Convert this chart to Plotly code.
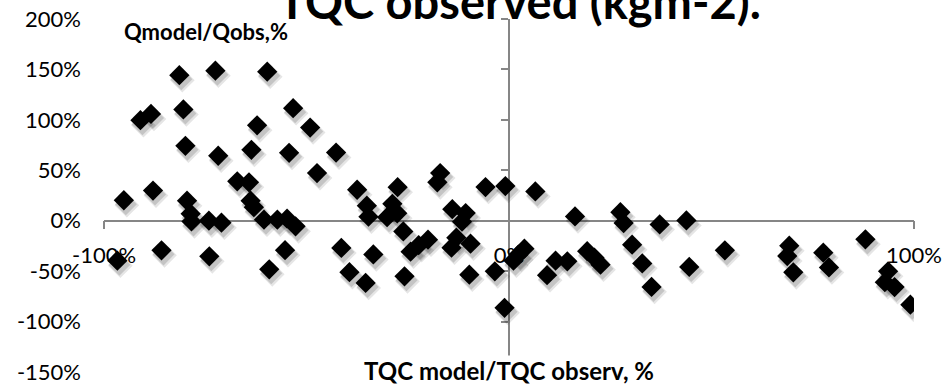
import plotly.graph_objects as go

# Relative error of the bulk heat-transfer model (%)
tqc_ratio = [
    -96.7, -95.1, -91.0, -88.4, -87.9, -85.8, -81.4, -80.4, -79.9, -79.5,
    -78.6, -78.4, -74.1, -74.0, -72.5, -71.8, -71.0, -67.1, -64.2, -63.8,
    -63.6, -63.0, -62.2, -60.5, -59.7, -59.2, -57.2, -55.3, -54.8, -54.3,
    -53.3, -52.7, -49.1, -47.4, -42.7, -41.4, -39.4, -37.5, -35.4, -35.1,
    -34.7, -33.5, -30.1, -28.8, -27.6, -27.5, -26.1, -25.8, -24.3, -22.3,
    -20.0, -17.7, -17.0, -14.0, -10.7, -11.6, -13.0, -9.5, -14.2, -9.8,
    -5.8, -3.5, -0.9, -1.1, 1.1, 2.3, 3.8, 6.5, 9.4, 11.5,
    14.4, 16.3, 19.3, 21.1, 22.6, 27.5, 28.3, 30.4, 32.9, 35.2,
    37.2, 43.8, 44.5, 53.3, 69.2, 68.7, 70.2, 77.6, 79.0, 88.0,
    93.6, 92.8, 95.2, 99.1,
]
q_ratio = [
    -39.6, 20.3, 99.7, 105.9, 29.9, -29.4, 144.3, 110.3, 74.3, 19.8,
    6.9, -0.7, 0.0, -35.3, 148.8, 64.4, -2.0, 39.1, 38.1, 19.8,
    70.3, 13.4, 94.6, 1.0, 147.8, -48.2, 1.0, -29.2, 2.0, 67.3,
    111.6, -5.6, 92.4, 47.2, 67.6, -27.0, -51.0, 30.7, -61.7, 14.9,
    4.0, -33.4, 3.5, 16.8, 7.4, 33.2, -10.6, -55.1, -30.7, -24.3,
    -18.8, 38.1, 47.2, 11.4, 7.6, -1.0, -16.8, -22.8, -26.7, -53.5,
    33.4, -50.2, 34.4, -86.4, -39.6, -33.7, -27.7, 29.0, -54.0, -39.6,
    -40.3, 4.3, -30.2, -36.6, -43.6, 8.4, -2.3, -23.8, -42.3, -65.6,
    -3.7, 0.3, -45.8, -29.4, -24.8, -35.0, -51.2, -31.7, -46.3, -18.5,
    -50.2, -60.9, -65.8, -83.2,
]

x_ticks = [-100, 0, 100]
y_ticks = [-150, -100, -50, 0, 50, 100, 150, 200]
x_ticktext = [f"{v}%" for v in x_ticks]
y_ticktext = [f"{v}%" for v in y_ticks]
x_range = [-100, 100]
y_range = [-150, 200]

title_text = "TQC observed (kgm-2)."
x_title = "TQC model/TQC observ, %"
y_title = "Qmodel/Qobs,%"

W, H = 945, 385
M = dict(l=104, r=31, t=19, b=12.5)
px_per_x = (W - M["l"] - M["r"]) / (x_range[1] - x_range[0])
px_per_y = (H - M["t"] - M["b"]) / (y_range[1] - y_range[0])

FONT = "Lato"
AXIS_GREY = "#868686"

fig = go.Figure()

# soft drop shadow under each diamond (offset a few pixels down-right)
for (dx, dy, size, alpha) in [(3, 5, 19, 0.10), (2, 4, 17, 0.14)]:
    fig.add_trace(go.Scatter(
        x=[v + dx / px_per_x for v in tqc_ratio],
        y=[v - dy / px_per_y for v in q_ratio],
        mode="markers",
        marker=dict(symbol="diamond", size=size, color=f"rgba(0,0,0,{alpha})",
                    line=dict(width=0)),
        hoverinfo="skip", showlegend=False, yaxis="y",
    ))

fig.add_trace(go.Scatter(
    x=tqc_ratio, y=q_ratio, mode="markers",
    marker=dict(symbol="diamond", size=15.6, color="#000000", line=dict(width=0)),
    showlegend=False, yaxis="y2",
))

fig.update_layout(
    width=W, height=H, margin=M,
    paper_bgcolor="white", plot_bgcolor="white",
    font=dict(family=FONT, color="#000000"),
    xaxis=dict(
        range=x_range, tickmode="array", tickvals=x_ticks, ticktext=x_ticktext,
        showgrid=False, zeroline=False, automargin=False,
        showline=True, linecolor=AXIS_GREY, linewidth=1.5,
        ticks="outside", ticklen=8, tickcolor=AXIS_GREY, tickwidth=1.5,
        anchor="free", position=(0 - y_range[0]) / (y_range[1] - y_range[0]),
        tickfont=dict(size=22, family=FONT), ticklabelstandoff=7,
        layer="below traces",
    ),
    yaxis=dict(
        range=y_range, tickmode="array", tickvals=y_ticks, ticktext=y_ticktext,
        showgrid=False, zeroline=False, showline=False, ticks="", automargin=False,
        tickfont=dict(size=22, family=FONT), ticklabelstandoff=22,
        layer="below traces",
    ),
    yaxis2=dict(
        range=y_range, tickvals=y_ticks, overlaying="y", automargin=False,
        anchor="free", position=(0 - x_range[0]) / (x_range[1] - x_range[0]),
        showgrid=False, zeroline=False, showticklabels=False,
        showline=True, linecolor=AXIS_GREY, linewidth=1.5,
        ticks="outside", ticklen=7, tickcolor=AXIS_GREY, tickwidth=1.5,
        layer="below traces",
    ),
    annotations=[
        dict(text=f"<b>{title_text}</b>", xref="x", yref="paper", x=0, y=1,
             xanchor="center", yanchor="bottom", xshift=10, yshift=-12,
             showarrow=False, font=dict(size=47, family=FONT)),
        dict(text=f"<b>{y_title}</b>", xref="x", yref="y", x=x_range[0], y=y_range[1],
             xanchor="left", yanchor="middle", xshift=18, yshift=-12, showarrow=False,
             font=dict(size=22, family=FONT)),
        dict(text=f"<b>{x_title}</b>", xref="x", yref="y", x=0, y=y_range[0],
             xanchor="center", yanchor="middle", yshift=2, showarrow=False,
             bgcolor="white", borderpad=0,
             font=dict(size=24, family=FONT)),
    ],
)

fig.write_html("out.html")
